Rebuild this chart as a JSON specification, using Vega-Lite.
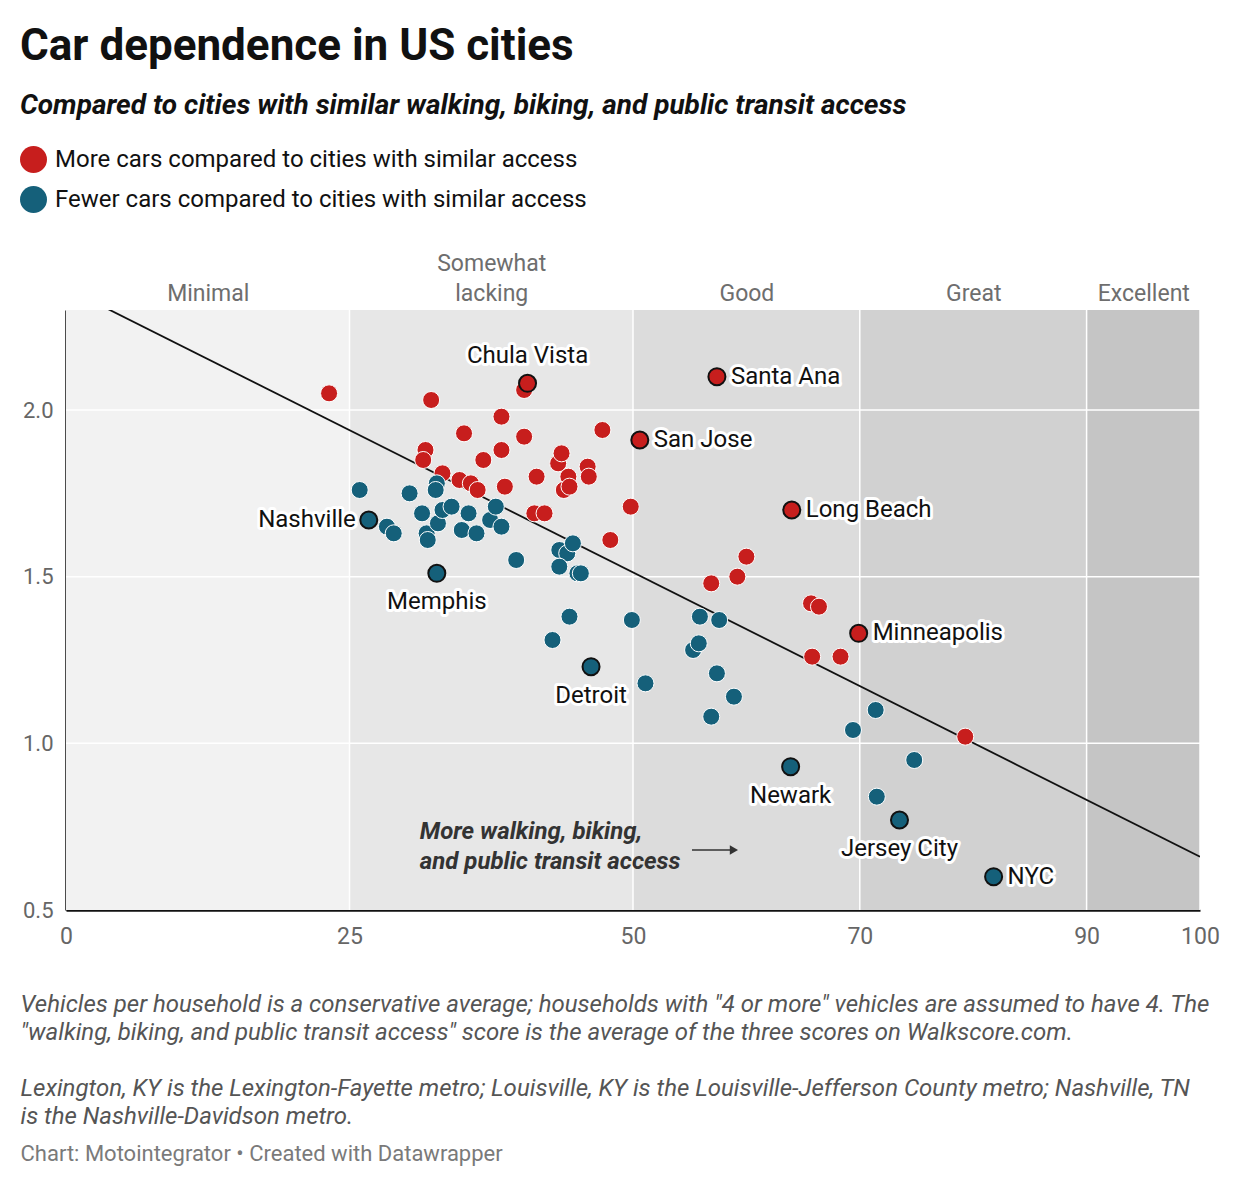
{
  "$schema": "https://vega.github.io/schema/vega-lite/v6.json",
  "width": 1134,
  "height": 600,
  "autosize": "none",
  "padding": {"left": 66, "top": 310, "right": 40, "bottom": 278},
  "background": "white",
  "title": {
    "text": "Car dependence in US cities",
    "subtitle": "Compared to cities with similar walking, biking, and public transit access",
    "anchor": "start",
    "frame": "group",
    "dx": -46,
    "offset": 26,
    "fontSize": 44,
    "fontWeight": "bold",
    "color": "#111111",
    "subtitleFontSize": 28,
    "subtitleFontStyle": "italic",
    "subtitleFontWeight": "bold",
    "subtitleColor": "#111111",
    "subtitlePadding": 23
  },
  "resolve": {"axis": {"x": "independent", "y": "independent"}},
  "layer": [
    {
      "data": {
        "values": [
          {"band": "Minimal", "start": 0, "end": 25},
          {"band": "Somewhat lacking", "start": 25, "end": 50},
          {"band": "Good", "start": 50, "end": 70},
          {"band": "Great", "start": 70, "end": 90},
          {"band": "Excellent", "start": 90, "end": 100}
        ]
      },
      "mark": {"type": "rect"},
      "encoding": {
        "x": {
          "field": "start",
          "type": "quantitative",
          "scale": {"domain": [0, 100], "nice": false},
          "axis": {
            "orient": "top",
            "values": [12.5, 37.5, 60, 80, 95],
            "labelExpr": "datum.value == 12.5 ? ['', 'Minimal'] : datum.value == 37.5 ? ['Somewhat', 'lacking'] : datum.value == 60 ? ['', 'Good'] : datum.value == 80 ? ['', 'Great'] : ['', 'Excellent']",
            "domain": false,
            "ticks": false,
            "grid": false,
            "labelFontSize": 23,
            "labelColor": "#6e6e6e",
            "labelPadding": 35,
            "labelLineHeight": 30,
            "labelOverlap": false,
            "labelFlush": false,
            "title": "Chart: Motointegrator • Created with Datawrapper",
            "titleX": -46,
            "titleY": 850,
            "titleAlign": "left",
            "titleBaseline": "alphabetic",
            "titleAngle": 0,
            "titleFontSize": 22,
            "titleFontWeight": "normal",
            "titleColor": "#7a7a7a"
          }
        },
        "x2": {"field": "end"},
        "fill": {
          "field": "band",
          "type": "nominal",
          "scale": {
            "domain": ["Minimal", "Somewhat lacking", "Good", "Great", "Excellent"],
            "range": ["#f2f2f2", "#e7e7e7", "#dcdcdc", "#d1d1d1", "#c5c5c5"]
          },
          "legend": null
        }
      }
    },
    {
      "data": {"values": [{"v": 1.0}, {"v": 1.5}, {"v": 2.0}]},
      "mark": {"type": "rule", "color": "white", "strokeWidth": 1.5},
      "encoding": {
        "y": {"field": "v", "type": "quantitative", "scale": {"domain": [0.5, 2.3], "nice": false}, "axis": null}
      }
    },
    {
      "data": {"values": [{"b": 25}, {"b": 50}, {"b": 70}, {"b": 90}, {"b": 100}]},
      "mark": {"type": "rule", "color": "white", "strokeWidth": 1.5},
      "encoding": {
        "x": {"field": "b", "type": "quantitative", "axis": null}
      }
    },
    {
      "data": {"values": [{"score": 0, "veh": 2.366}, {"score": 100, "veh": 0.66}]},
      "mark": {"type": "line", "color": "#111111", "strokeWidth": 1.8, "clip": true},
      "encoding": {
        "x": {"field": "score", "type": "quantitative", "axis": null},
        "y": {"field": "veh", "type": "quantitative", "axis": null}
      }
    },
    {
      "data": {"name": "cities"},
      "resolve": {"axis": {"x": "independent", "y": "independent"}},
      "layer": [
        {
          "mark": {"type": "circle", "opacity": 1, "size": 290},
          "encoding": {
            "x": {
              "field": "score",
              "type": "quantitative",
              "scale": {"domain": [0, 100], "nice": false},
              "axis": {
                "orient": "bottom",
                "values": [0, 25, 50, 70, 90, 100],
                "grid": false,
                "ticks": false,
                "domainColor": "#111111",
                "domainWidth": 2.5,
                "labelFontSize": 23,
                "labelColor": "#666666",
                "labelPadding": 15,
                "labelFlush": false,
                "labelOverlap": false,
                "title": [
                  "Vehicles per household is a conservative average; households with \"4 or more\" vehicles are assumed to have 4. The",
                  "\"walking, biking, and public transit access\" score is the average of the three scores on Walkscore.com.",
                  "\u200b",
                  "Lexington, KY is the Lexington-Fayette metro; Louisville, KY is the Louisville-Jefferson County metro; Nashville, TN",
                  "is the Nashville-Davidson metro."
                ],
                "titleX": -46,
                "titleY": 101,
                "titleAlign": "left",
                "titleBaseline": "alphabetic",
                "titleAngle": 0,
                "titleFontSize": 24,
                "titleFontStyle": "italic",
                "titleFontWeight": "normal",
                "titleColor": "#555555",
                "titleLineHeight": 28
              }
            },
            "y": {
              "field": "veh",
              "type": "quantitative",
              "scale": {"domain": [0.5, 2.3], "nice": false},
              "axis": {
                "values": [0.5, 1.0, 1.5, 2.0],
                "format": ".1f",
                "grid": false,
                "ticks": false,
                "domainColor": "#111111",
                "domainWidth": 2.5,
                "labelFontSize": 22,
                "labelColor": "#666666",
                "labelPadding": 13,
                "labelFlush": false,
                "title": ["Vehicles per", "household"],
                "titleX": 12,
                "titleY": 94,
                "titleAlign": "left",
                "titleBaseline": "alphabetic",
                "titleAngle": 0,
                "titleFontSize": 23,
                "titleFontWeight": "bold",
                "titleColor": "#333333",
                "titleLineHeight": 30
              }
            },
            "color": {
              "field": "group",
              "type": "nominal",
              "scale": {"domain": ["more", "fewer"], "range": ["#c71e1d", "#15607a"]},
              "legend": {
                "orient": "none",
                "legendX": -46,
                "legendY": -164,
                "direction": "vertical",
                "title": null,
                "padding": 0,
                "labelExpr": "datum.value == 'more' ? 'More cars compared to cities with similar access' : 'Fewer cars compared to cities with similar access'",
                "labelFontSize": 24,
                "labelColor": "#111111",
                "labelOffset": 8,
                "labelLimit": 700,
                "symbolType": "circle",
                "symbolSize": 729,
                "symbolStrokeWidth": 0,
                "symbolOpacity": 1,
                "rowPadding": 13
              }
            },
            "stroke": {"condition": {"test": "datum.label", "value": "#111111"}, "value": "white"},
            "strokeWidth": {"condition": {"test": "datum.label", "value": 2}, "value": 1}
          }
        },
        {
          "transform": [{"filter": "indexof(['Santa Ana', 'San Jose', 'Long Beach', 'Minneapolis', 'NYC'], datum.label) >= 0"}],
          "encoding": {
            "x": {"field": "score", "type": "quantitative", "axis": null},
            "y": {"field": "veh", "type": "quantitative", "axis": null},
            "text": {"field": "label"}
          },
          "layer": [
            {"mark": {"type": "text", "align": "left", "baseline": "middle", "dx": 14, "fontSize": 24, "fill": "white", "stroke": "white", "strokeWidth": 6, "strokeJoin": "round"}},
            {"mark": {"type": "text", "align": "left", "baseline": "middle", "dx": 14, "fontSize": 24, "color": "#111111"}}
          ]
        },
        {
          "transform": [{"filter": "datum.label == 'Nashville'"}],
          "encoding": {
            "x": {"field": "score", "type": "quantitative", "axis": null},
            "y": {"field": "veh", "type": "quantitative", "axis": null},
            "text": {"field": "label"}
          },
          "layer": [
            {"mark": {"type": "text", "align": "right", "baseline": "middle", "dx": -13, "fontSize": 24, "fill": "white", "stroke": "white", "strokeWidth": 6, "strokeJoin": "round"}},
            {"mark": {"type": "text", "align": "right", "baseline": "middle", "dx": -13, "fontSize": 24, "color": "#111111"}}
          ]
        },
        {
          "transform": [{"filter": "indexof(['Memphis', 'Detroit', 'Newark', 'Jersey City'], datum.label) >= 0"}],
          "encoding": {
            "x": {"field": "score", "type": "quantitative", "axis": null},
            "y": {"field": "veh", "type": "quantitative", "axis": null},
            "text": {"field": "label"}
          },
          "layer": [
            {"mark": {"type": "text", "align": "center", "baseline": "middle", "dy": 29, "fontSize": 24, "fill": "white", "stroke": "white", "strokeWidth": 6, "strokeJoin": "round"}},
            {"mark": {"type": "text", "align": "center", "baseline": "middle", "dy": 29, "fontSize": 24, "color": "#111111"}}
          ]
        },
        {
          "transform": [{"filter": "datum.label == 'Chula Vista'"}],
          "encoding": {
            "x": {"field": "score", "type": "quantitative", "axis": null},
            "y": {"field": "veh", "type": "quantitative", "axis": null},
            "text": {"field": "label"}
          },
          "layer": [
            {"mark": {"type": "text", "align": "center", "baseline": "middle", "dy": -27, "fontSize": 24, "fill": "white", "stroke": "white", "strokeWidth": 6, "strokeJoin": "round"}},
            {"mark": {"type": "text", "align": "center", "baseline": "middle", "dy": -27, "fontSize": 24, "color": "#111111"}}
          ]
        }
      ]
    },
    {
      "data": {"values": [{}]},
      "mark": {"type": "text", "align": "left", "baseline": "middle", "fontSize": 24, "fontStyle": "italic", "fontWeight": "bold", "color": "#333333", "lineHeight": 30, "text": ["More walking, biking,", "and public transit access"]},
      "encoding": {
        "x": {"datum": 31.2, "type": "quantitative", "axis": null},
        "y": {"datum": 0.735, "type": "quantitative", "axis": null}
      }
    },
    {
      "data": {"values": [{}]},
      "mark": {"type": "rule", "color": "#333333", "strokeWidth": 1.5},
      "encoding": {
        "x": {"datum": 55.2, "type": "quantitative", "axis": null},
        "x2": {"datum": 58.6},
        "y": {"datum": 0.68, "type": "quantitative", "axis": null}
      }
    },
    {
      "data": {"values": [{}]},
      "mark": {"type": "point", "shape": "triangle-right", "filled": true, "size": 90, "color": "#333333", "opacity": 1},
      "encoding": {
        "x": {"datum": 58.9, "type": "quantitative", "axis": null},
        "y": {"datum": 0.68, "type": "quantitative", "axis": null}
      }
    }
  ],
  "datasets": {
    "cities": [
      {"score": 23.2, "veh": 2.05, "group": "more"},
      {"score": 32.2, "veh": 2.03, "group": "more"},
      {"score": 40.4, "veh": 2.06, "group": "more"},
      {"score": 38.4, "veh": 1.98, "group": "more"},
      {"score": 35.1, "veh": 1.93, "group": "more"},
      {"score": 40.4, "veh": 1.92, "group": "more"},
      {"score": 47.3, "veh": 1.94, "group": "more"},
      {"score": 31.7, "veh": 1.88, "group": "more"},
      {"score": 31.5, "veh": 1.85, "group": "more"},
      {"score": 38.4, "veh": 1.88, "group": "more"},
      {"score": 33.2, "veh": 1.81, "group": "more"},
      {"score": 36.8, "veh": 1.85, "group": "more"},
      {"score": 34.7, "veh": 1.79, "group": "more"},
      {"score": 35.7, "veh": 1.78, "group": "more"},
      {"score": 36.3, "veh": 1.76, "group": "more"},
      {"score": 41.5, "veh": 1.80, "group": "more"},
      {"score": 38.7, "veh": 1.77, "group": "more"},
      {"score": 43.4, "veh": 1.84, "group": "more"},
      {"score": 43.7, "veh": 1.87, "group": "more"},
      {"score": 44.3, "veh": 1.80, "group": "more"},
      {"score": 43.9, "veh": 1.76, "group": "more"},
      {"score": 44.4, "veh": 1.77, "group": "more"},
      {"score": 46.0, "veh": 1.83, "group": "more"},
      {"score": 46.1, "veh": 1.80, "group": "more"},
      {"score": 41.3, "veh": 1.69, "group": "more"},
      {"score": 42.2, "veh": 1.69, "group": "more"},
      {"score": 49.8, "veh": 1.71, "group": "more"},
      {"score": 48.0, "veh": 1.61, "group": "more"},
      {"score": 60.0, "veh": 1.56, "group": "more"},
      {"score": 59.2, "veh": 1.50, "group": "more"},
      {"score": 56.9, "veh": 1.48, "group": "more"},
      {"score": 65.7, "veh": 1.42, "group": "more"},
      {"score": 66.4, "veh": 1.41, "group": "more"},
      {"score": 65.8, "veh": 1.26, "group": "more"},
      {"score": 68.3, "veh": 1.26, "group": "more"},
      {"score": 79.3, "veh": 1.02, "group": "more"},
      {"score": 25.9, "veh": 1.76, "group": "fewer"},
      {"score": 28.3, "veh": 1.65, "group": "fewer"},
      {"score": 28.9, "veh": 1.63, "group": "fewer"},
      {"score": 30.3, "veh": 1.75, "group": "fewer"},
      {"score": 32.7, "veh": 1.78, "group": "fewer"},
      {"score": 32.6, "veh": 1.76, "group": "fewer"},
      {"score": 31.4, "veh": 1.69, "group": "fewer"},
      {"score": 31.8, "veh": 1.63, "group": "fewer"},
      {"score": 31.9, "veh": 1.61, "group": "fewer"},
      {"score": 32.8, "veh": 1.66, "group": "fewer"},
      {"score": 33.2, "veh": 1.70, "group": "fewer"},
      {"score": 34.0, "veh": 1.71, "group": "fewer"},
      {"score": 34.9, "veh": 1.64, "group": "fewer"},
      {"score": 35.5, "veh": 1.69, "group": "fewer"},
      {"score": 36.2, "veh": 1.63, "group": "fewer"},
      {"score": 37.4, "veh": 1.67, "group": "fewer"},
      {"score": 37.9, "veh": 1.71, "group": "fewer"},
      {"score": 38.4, "veh": 1.65, "group": "fewer"},
      {"score": 39.7, "veh": 1.55, "group": "fewer"},
      {"score": 43.5, "veh": 1.58, "group": "fewer"},
      {"score": 44.2, "veh": 1.57, "group": "fewer"},
      {"score": 44.7, "veh": 1.60, "group": "fewer"},
      {"score": 43.5, "veh": 1.53, "group": "fewer"},
      {"score": 45.1, "veh": 1.51, "group": "fewer"},
      {"score": 45.4, "veh": 1.51, "group": "fewer"},
      {"score": 44.4, "veh": 1.38, "group": "fewer"},
      {"score": 42.9, "veh": 1.31, "group": "fewer"},
      {"score": 49.9, "veh": 1.37, "group": "fewer"},
      {"score": 55.9, "veh": 1.38, "group": "fewer"},
      {"score": 57.6, "veh": 1.37, "group": "fewer"},
      {"score": 55.3, "veh": 1.28, "group": "fewer"},
      {"score": 55.8, "veh": 1.30, "group": "fewer"},
      {"score": 51.1, "veh": 1.18, "group": "fewer"},
      {"score": 57.4, "veh": 1.21, "group": "fewer"},
      {"score": 58.9, "veh": 1.14, "group": "fewer"},
      {"score": 56.9, "veh": 1.08, "group": "fewer"},
      {"score": 71.4, "veh": 1.10, "group": "fewer"},
      {"score": 69.4, "veh": 1.04, "group": "fewer"},
      {"score": 74.8, "veh": 0.95, "group": "fewer"},
      {"score": 71.5, "veh": 0.84, "group": "fewer"},
      {"score": 40.7, "veh": 2.08, "group": "more", "label": "Chula Vista"},
      {"score": 57.4, "veh": 2.10, "group": "more", "label": "Santa Ana"},
      {"score": 50.6, "veh": 1.91, "group": "more", "label": "San Jose"},
      {"score": 64.0, "veh": 1.70, "group": "more", "label": "Long Beach"},
      {"score": 69.9, "veh": 1.33, "group": "more", "label": "Minneapolis"},
      {"score": 26.7, "veh": 1.67, "group": "fewer", "label": "Nashville"},
      {"score": 32.7, "veh": 1.51, "group": "fewer", "label": "Memphis"},
      {"score": 46.3, "veh": 1.23, "group": "fewer", "label": "Detroit"},
      {"score": 63.9, "veh": 0.93, "group": "fewer", "label": "Newark"},
      {"score": 73.5, "veh": 0.77, "group": "fewer", "label": "Jersey City"},
      {"score": 81.8, "veh": 0.60, "group": "fewer", "label": "NYC"}
    ]
  },
  "config": {
    "font": "Roboto",
    "view": {"stroke": null}
  }
}
